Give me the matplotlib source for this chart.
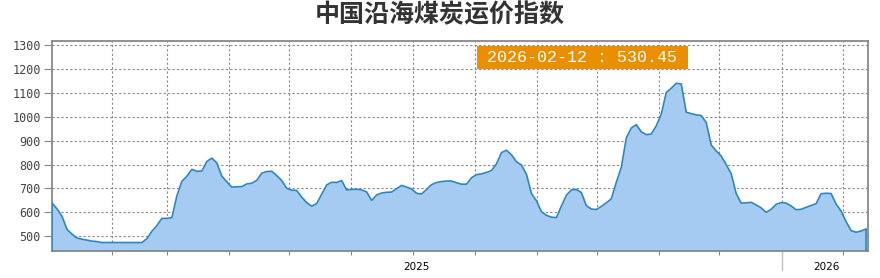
import numpy as np
import pandas as pd
import matplotlib
matplotlib.use('Agg')
from matplotlib import pyplot as plt
import matplotlib.transforms as mtransforms
from matplotlib.patches import Rectangle

title = '中国沿海煤炭运价指数'
start_date = '2024-02-08'
end_date = '2026-02-12'
last_label = '2026-02-12 : 530.45'

values = [
    639, 615, 584, 529, 509, 493, 488, 484, 480, 478,
    474, 474, 474, 474, 474, 474, 474, 474, 474, 490,
    521, 545, 575, 575, 578, 669, 730, 751, 780, 772,
    773, 813, 827, 807, 752, 728, 706, 707, 708, 719,
    722, 734, 764, 771, 772, 754, 733, 701, 693, 692,
    664, 641, 626, 637, 676, 715, 726, 725, 733, 694,
    696, 697, 694, 686, 650, 673, 681, 684, 685, 699,
    713, 706, 698, 680, 677, 696, 716, 725, 729, 731,
    731, 724, 718, 718, 745, 758, 761, 767, 775, 803,
    850, 860, 841, 812, 798, 760, 679, 649, 603, 588,
    580, 578, 627, 672, 694, 696, 683, 628, 614, 612,
    625, 640, 657, 726, 789, 912, 953, 967, 937, 925,
    928, 962, 1011, 1102, 1119, 1140, 1137, 1019, 1013, 1008,
    1005, 976, 882, 857, 836, 800, 762, 679, 639, 640,
    642, 631, 619, 600, 613, 634, 641, 639, 627, 611,
    613, 621, 629, 636, 678, 680, 679, 635, 606, 562,
    524, 517, 522, 530.45,
]

tick_dates = ['2024-04-02', '2024-05-22', '2024-07-17', '2024-09-09', '2024-11-04',
              '2024-12-30', '2025-02-24', '2025-04-21', '2025-06-14', '2025-08-09',
              '2025-10-02', '2025-11-28', '2026-01-22']
year_labels = ['2025', '2026']
year_label_dates = ['2025-01-02', '2026-01-07']
year_split = '2025-11-28'

y_ticks = [500, 600, 700, 800, 900, 1000, 1100, 1200, 1300]

dates = pd.date_range(start_date, end_date, periods=len(values))
vals = np.array(values, dtype=float)

fig = plt.figure(figsize=(8.8, 2.78), dpi=100)
ax = fig.add_axes([0.0591, 0.0971, 0.9273, 0.7565])

ybot, ytop = 438.5, 1318
ax.set_ylim(ybot, ytop)
ax.set_xlim(dates[0], dates[-1] + pd.Timedelta(days=1.8))

ax.fill_between(dates, vals, ybot, color='#a6cbf3', lw=0, zorder=2)
ax.plot(dates, vals, color='#2f86bf', lw=1.2, zorder=3)
ax.vlines([dates[0], dates[-1]], ybot, [vals[0], vals[-1]], color='#2f86bf', lw=1.2, zorder=3)

grid_kw = dict(color='#8a8a8a', lw=0.8, linestyle=(0, (2, 2)), zorder=1)
for y in y_ticks:
    ax.axhline(y, **grid_kw)
for d in tick_dates:
    ax.axvline(pd.Timestamp(d), **grid_kw)

ax.set_yticks(y_ticks)
ax.set_yticklabels([str(v) for v in y_ticks], family='DejaVu Sans Mono', fontsize=8.5, color='#444444')
ax.set_xticks([pd.Timestamp(d) for d in tick_dates])
ax.set_xticklabels([])
ax.tick_params(axis='y', length=6, width=0.8, color='#888888', pad=2)
ax.tick_params(axis='x', length=3, width=0.8, color='#888888')

for s in ax.spines.values():
    s.set_color('#888888')
    s.set_linewidth(1.3)

trans = mtransforms.blended_transform_factory(ax.transData, ax.transAxes)
ax.plot([pd.Timestamp(year_split)] * 2, [0, -0.09], transform=trans, color='#c0c0c0',
        lw=1, clip_on=False)
for lab, d in zip(year_labels, year_label_dates):
    ax.text(pd.Timestamp(d), -0.05, lab, transform=trans, ha='center', va='top',
            fontsize=7.5, color='black')

fig.text(0.5, 0.946, title, ha='center', va='center', fontsize=18, fontweight='bold',
         color='#333333', family=['Noto Sans CJK SC', 'DejaVu Sans'])

# orange value box
fig.patches.append(Rectangle((477 / 880, 1 - 69 / 278), 211 / 880, 23 / 278,
                             transform=fig.transFigure, facecolor='#ea8f00',
                             edgecolor='none', zorder=5))
fig.text(487 / 880, 1 - 57.5 / 278, last_label, ha='left', va='center', fontsize=12,
         color='white', family='Liberation Mono', zorder=6)

fig.savefig('out.png', dpi=100)
